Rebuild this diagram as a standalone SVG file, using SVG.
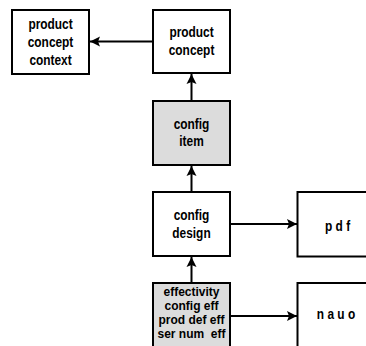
<svg xmlns="http://www.w3.org/2000/svg" width="366" height="346" viewBox="0 0 366 346">
<defs>
<style>
.box{fill:#ffffff;stroke:#000;stroke-width:2}
.grey{fill:#dcdcdc}
.t{font-family:"Liberation Sans",Arial,sans-serif;font-weight:bold;font-size:14px;text-anchor:middle;fill:#000;transform-box:fill-box;transform-origin:center;transform:scaleX(0.85)}
.s{font-family:"Liberation Sans",Arial,sans-serif;font-weight:bold;font-size:12px;text-anchor:middle;fill:#000}
.c{stroke:#000;stroke-width:2;fill:none;marker-end:url(#ah)}
</style>
<marker id="ah" markerUnits="userSpaceOnUse" markerWidth="11" markerHeight="11" refX="10" refY="5.5" orient="auto">
<path d="M0,0.5 L10,5.5 L0,10.5 L2,5.5 z" fill="#000"/>
</marker>
</defs>
<rect width="366" height="346" fill="#fff"/>
<g id="connectors">
<line class="c" x1="153" y1="41.5" x2="90" y2="41.5"/>
<line class="c" x1="191.5" y1="101" x2="191.5" y2="74"/>
<line class="c" x1="191.5" y1="192" x2="191.5" y2="166"/>
<line class="c" x1="191.5" y1="283" x2="191.5" y2="257"/>
<line class="c" x1="230" y1="224" x2="297" y2="224"/>
<line class="c" x1="230" y1="316" x2="297" y2="316"/>
</g>
<g id="product-concept-context">
<rect class="box" x="12" y="10" width="77" height="64"/>
<text class="t" x="50.5" y="29.5">product</text>
<text class="t" x="50.5" y="47.5">concept</text>
<text class="t" x="50.5" y="65.5">context</text>
</g>
<g id="product-concept">
<rect class="box" x="153" y="10" width="77" height="63"/>
<text class="t" x="191.5" y="37.5">product</text>
<text class="t" x="191.5" y="55.5">concept</text>
</g>
<g id="config-item">
<rect class="box grey" x="153" y="101" width="77" height="64"/>
<text class="t" x="191.5" y="129.3">config</text>
<text class="t" x="191.5" y="146.5">item</text>
</g>
<g id="config-design">
<rect class="box" x="153" y="192" width="77" height="64"/>
<text class="t" x="191.5" y="220.5">config</text>
<text class="t" x="191.5" y="238">design</text>
</g>
<g id="effectivity">
<rect class="box grey" x="153" y="283" width="77" height="70"/>
<text class="s" x="191.5" y="296">effectivity</text>
<text class="s" x="191.5" y="310">config eff</text>
<text class="s" x="191.5" y="324">prod def eff</text>
<text class="s" x="191.5" y="338" xml:space="preserve">ser num  eff</text>
</g>
<g id="pdf">
<rect class="box" x="297.5" y="192" width="77" height="64.5"/>
<text class="t" x="337.5" y="231">p d f</text>
</g>
<g id="nauo">
<rect class="box" x="297.5" y="283" width="77" height="70"/>
<text class="t" x="336" y="319.5">n a u o</text>
</g>
</svg>
